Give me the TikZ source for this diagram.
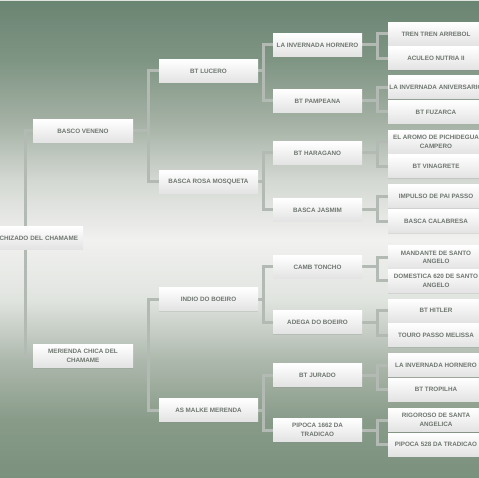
\documentclass[tikz,border=0pt]{standalone}
\usepackage{fontspec}
\setmainfont{Liberation Sans}
\usetikzlibrary{backgrounds, shadows}
\definecolor{brkInk}{HTML}{6E766F}
\definecolor{brkLine}{HTML}{B3BAB4}
\definecolor{brkRim}{HTML}{DDE3DD}
\definecolor{bgA}{HTML}{7A917E}
\definecolor{bgB}{HTML}{889B89}
\definecolor{bgC}{HTML}{ADB8AC}
\definecolor{bgD}{HTML}{E0E4DF}
\definecolor{bgE}{HTML}{F1F1EF}
\definecolor{bgF}{HTML}{D3D8D2}
\definecolor{bgG}{HTML}{A3B0A3}
\definecolor{bgH}{HTML}{7F9584}
\definecolor{bgI}{HTML}{6A8472}
\pgfdeclareverticalshading{brkbg}{100bp}{color(0bp)=(bgA); color(25bp)=(bgA);
  color(31.1bp)=(bgB); color(37.3bp)=(bgC); color(43.6bp)=(bgD); color(49.9bp)=(bgE);
  color(56.2bp)=(bgF); color(62.4bp)=(bgG); color(68.7bp)=(bgH); color(75bp)=(bgI);
  color(100bp)=(bgI)}
\tikzset{
  team/.style={top color=white, bottom color=black!11, minimum height=23pt,
    inner sep=1pt, align=center, text=brkInk,
    font=\fontsize{6.3}{8.4}\selectfont\bfseries,
    drop shadow={shadow xshift=0pt, shadow yshift=-1pt, opacity=0.18}},
  topbox/.style={team, minimum width=100pt, text width=90pt, align=right},
  finalbox/.style={team, minimum width=100pt},
  semibox/.style={team, minimum width=99pt},
  quarterbox/.style={team, minimum width=89pt},
  eighthbox/.style={team, minimum width=96pt},
  link/.style={draw=brkLine, line width=3pt}
}
\newcommand{\pairlink}[4]{%
  \draw[link] (#1.east) -- ++(#4,0) |- (#2.west);
  \draw[link] (#1.east) -- ++(#4,0) |- (#3.west);
}

\begin{document}
\begin{tikzpicture}[x=1pt, y=-1pt]
  \useasboundingbox (0,0) rectangle (479,478);
  \begin{scope}[on background layer]
    \shade[shading=brkbg] (0,0) rectangle (479,478);
    \fill[brkRim] (0,0) rectangle (479,1.5);
  \end{scope}

  \node[topbox] (champ) at (33,238) {CHIZADO DEL CHAMAME};

  \node[finalbox] (fa) at (83,131) {BASCO VENENO};
  \node[finalbox] (fb) at (83,356) {MERIENDA CHICA DEL\\CHAMAME};

  \node[semibox] (sa) at (208.5,71) {BT LUCERO};
  \node[semibox] (sb) at (208.5,182) {BASCA ROSA MOSQUETA};
  \node[semibox] (sc) at (208.5,299) {INDIO DO BOEIRO};
  \node[semibox] (sd) at (208.5,410) {AS MALKE MERENDA};

  \node[quarterbox] (qa) at (317.5,45) {LA INVERNADA HORNERO};
  \node[quarterbox] (qb) at (317.5,101) {BT PAMPEANA};
  \node[quarterbox] (qc) at (317.5,153) {BT HARAGANO};
  \node[quarterbox] (qd) at (317.5,210) {BASCA JASMIM};
  \node[quarterbox] (qe) at (317.5,267) {CAMB TONCHO};
  \node[quarterbox] (qf) at (317.5,322) {ADEGA DO BOEIRO};
  \node[quarterbox] (qg) at (317.5,375) {BT JURADO};
  \node[quarterbox] (qh) at (317.5,430) {PIPOCA 1662 DA\\TRADICAO};

  \node[eighthbox] (ea) at (436,34) {TREN TREN ARREBOL};
  \node[eighthbox] (eb) at (436,58.5) {ACULEO NUTRIA II};
  \node[eighthbox] (ec) at (436,87.5) {LA INVERNADA ANIVERSARIO};
  \node[eighthbox] (ed) at (436,112) {BT FUZARCA};
  \node[eighthbox] (ee) at (436,142) {EL AROMO DE PICHIDEGUA\\CAMPERO};
  \node[eighthbox] (ef) at (436,166.5) {BT VINAGRETE};
  \node[eighthbox] (eg) at (436,196.5) {IMPULSO DE PAI PASSO};
  \node[eighthbox] (eh) at (436,221.5) {BASCA CALABRESA};
  \node[eighthbox] (ei) at (436,257.5) {MANDANTE DE SANTO\\ANGELO};
  \node[eighthbox] (ej) at (436,281) {DOMESTICA 620 DE SANTO\\ANGELO};
  \node[eighthbox] (ek) at (436,310.5) {BT HITLER};
  \node[eighthbox] (el) at (436,335) {TOURO PASSO MELISSA};
  \node[eighthbox] (em) at (436,365) {LA INVERNADA HORNERO};
  \node[eighthbox] (en) at (436,389.5) {BT TROPILHA};
  \node[eighthbox] (eo) at (436,420) {RIGOROSO DE SANTA\\ANGELICA};
  \node[eighthbox] (ep) at (436,444.5) {PIPOCA 528 DA TRADICAO};

  \coordinate (hub) at (25,238);
  \begin{scope}[on background layer]
    \draw[link] (hub) |- (fa.west);
    \draw[link] (hub) |- (fb.west);
    \pairlink{fa}{sa}{sb}{15}
    \pairlink{fb}{sc}{sd}{15}
    \pairlink{sa}{qa}{qb}{5}
    \pairlink{sb}{qc}{qd}{5}
    \pairlink{sc}{qe}{qf}{5}
    \pairlink{sd}{qg}{qh}{5}
    \pairlink{qa}{ea}{eb}{15}
    \pairlink{qb}{ec}{ed}{15}
    \pairlink{qc}{ee}{ef}{15}
    \pairlink{qd}{eg}{eh}{15}
    \pairlink{qe}{ei}{ej}{15}
    \pairlink{qf}{ek}{el}{15}
    \pairlink{qg}{em}{en}{15}
    \pairlink{qh}{eo}{ep}{15}
  \end{scope}
\end{tikzpicture}
\end{document}
